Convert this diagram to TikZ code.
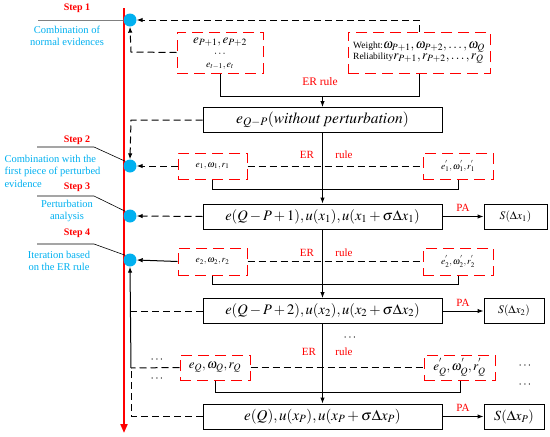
\documentclass[tikz,border=0pt]{standalone}
\usepackage{mathptmx}
\usepackage{fontspec}
\setmainfont{Liberation Serif}
\usetikzlibrary{arrows.meta}
\definecolor{cy}{RGB}{0,176,240}
\definecolor{rd}{RGB}{255,0,0}
\tikzset{
  solidbox/.style={draw,line width=1pt,minimum width=239pt,minimum height=25pt,inner sep=0pt,font=\fontsize{14.5}{16}\selectfont},
  sbox/.style={draw,line width=1pt,minimum height=25pt,inner sep=0pt,font=\fontsize{11.5}{13}\selectfont},
  rbox/.style={draw=rd,line width=1pt,dash pattern=on 11pt off 6pt,minimum height=26pt,inner sep=0pt,font=\fontsize{9.5}{11}\selectfont},
  dl/.style={line width=1pt,dash pattern=on 7pt off 4pt},
  sl/.style={line width=1pt},
  arr/.style={-{Latex[length=6pt,width=4.5pt]}},
  dot/.style={circle,fill=cy,minimum size=13pt,inner sep=0pt},
  steplab/.style={text=rd,font=\fontsize{10}{11}\selectfont\bfseries},
  desc/.style={text=cy,font=\fontsize{10.5}{12.5}\selectfont,align=center},
  redlab/.style={text=rd,font=\fontsize{11}{12}\selectfont},
  dots3/.style={font=\fontsize{12}{12}\selectfont}
}
\begin{document}
\begin{tikzpicture}[x=1pt,y=-1pt]
\useasboundingbox (0,0) rectangle (550,437);
% red axis
\draw[rd,line width=2pt,-{Triangle[length=9pt,width=7pt]}] (124,8) -- (124,433);
% dots
\node[dot] (d1) at (130,20) {};
\node[dot] (d2) at (130,166) {};
\node[dot] (d3) at (130,216) {};
\node[dot] (d4) at (130,260) {};
% step labels
\node[steplab] (s1) at (77,8) {Step 1};
\node[desc] (t1) at (67,36) {Combination of\\normal evidences};
\coordinate (l1) at (38,20);
\draw[gray,line width=1pt] (l1) -- (d1.west);
\node[steplab] (s2) at (77,140) {Step 2};
\node[desc,align=left,anchor=west] (t2) at (1,171) {Combination with the\\first piece of perturbed\\evidence};
\coordinate (l2a) at (37,147); \coordinate (l2b) at (94,147);
\draw[line width=0.6pt] (l2a) -- (l2b) -- (d2.north west);
\node[steplab] (s3) at (77,187) {Step 3};
\node[desc] (t3) at (67,211) {Perturbation\\analysis};
\coordinate (l3a) at (37,196); \coordinate (l3b) at (94,196);
\draw[line width=0.6pt] (l3a) -- (l3b) -- (d3.north west);
\node[steplab] (s4) at (77,233) {Step 4};
\node[desc] (t4) at (59,261) {Iteration based\\on the ER rule};
\coordinate (l4a) at (37,244); \coordinate (l4b) at (94,244);
\draw[line width=0.6pt] (l4a) -- (l4b) -- (d4.north west);
% top boxes
\node[rbox,minimum width=86pt,minimum height=41pt] (A) at (220,52.5) {};
\node[font=\fontsize{13}{13}\selectfont,inner sep=1pt] (A1) at (220,42) {$e_{P+1},e_{P+2}$};
\node[font=\fontsize{11}{11}\selectfont,inner sep=0pt] (A2) at (220,54) {$\cdots$};
\node[font=\fontsize{10}{10}\selectfont,inner sep=1pt] (A3) at (220,66) {$e_{t-1},e_t$};
\node[rbox,minimum width=142pt,minimum height=41pt,align=left] (B) at (419,52.5)
  {Weight:\fontsize{13}{15}\selectfont$\omega_{P+1},\omega_{P+2},\ldots,\omega_Q$\\
   \fontsize{9.5}{15}\selectfont Reliability\fontsize{13}{15}\selectfont$r_{P+1},r_{P+2},\ldots,r_Q$};
\node[redlab,font=\fontsize{11.5}{12}\selectfont] (er0) at (320,82) {ER rule};
\node[solidbox,font=\fontsize{15.5}{17}\selectfont] (C) at (322.5,120) {$e_{Q-P}(\mathit{without\ perturbation})$};
\coordinate (j0a) at (220,96); \coordinate (j0b) at (419,96); \coordinate (j0c) at (322.5,96);
\draw[sl] (A.south) -- (j0a) -- (j0b) -- (B.south);
\draw[sl,arr] (j0c) -- (C.north);
\coordinate (c1) at (419,20);
\draw[dl,arr] (B.north) -- (c1) -- (d1.east);
\coordinate (c2) at (131,52);
\draw[dl,arr] (A.west) -- (c2) -- (d1.south);
\coordinate (c3) at (131,120);
\draw[dl,arr] (C.west) -- (c3) -- (d2.north);
% row 1
\node[rbox,minimum width=69pt] (D1) at (212.5,166) {$e_1,\omega_1,r_1$};
\node[rbox,minimum width=70pt] (D2) at (458,166) {$e_1^{'},\omega_1^{'},r_1^{'}$};
\node[redlab] (er1a) at (307,155) {ER};
\node[redlab] (er1b) at (344,155) {rule};
\draw[dl,arr] (D1.west) -- (d2.east);
\draw[dl] (D1.east) -- (D2.west);
\coordinate (j1a) at (212,189); \coordinate (j1b) at (458,189);
\draw[sl] (D1.south -| j1a) -- (j1a) -- (j1b) -- (D2.south -| j1b);
\node[solidbox] (E) at (322.5,216.5) {$e(Q-P+1),u(x_1),u(x_1+\sigma\Delta x_1)$};
\draw[sl,arr] (C.south) -- (E.north);
\draw[dl,arr] (E.west) -- (d3.east);
\node[sbox,minimum width=63pt] (S1) at (515.5,216.5) {$S(\Delta x_1)$};
\draw[sl,arr] (E.east) -- node[redlab,above=1pt] {PA} (S1.west);
% row 2
\node[rbox,minimum width=69pt,minimum height=27pt] (D3) at (212.5,261.5) {$e_2,\omega_2,r_2$};
\node[rbox,minimum width=70pt,minimum height=27pt] (D4) at (458,261.5) {$e_2^{'},\omega_2^{'},r_2^{'}$};
\node[redlab] (er2a) at (307,253) {ER};
\node[redlab] (er2b) at (344,253) {rule};
\draw[sl,arr] (D3.west) -- (d4.east);
\draw[dl] (D3.east) -- (D4.west);
\coordinate (j2a) at (212,284); \coordinate (j2b) at (458,284);
\draw[sl] (D3.south -| j2a) -- (j2a) -- (j2b) -- (D4.south -| j2b);
\node[solidbox] (F) at (322.5,311) {$e(Q-P+2),u(x_2),u(x_2+\sigma\Delta x_2)$};
\draw[sl,arr] (E.south) -- (F.north);
\node[sbox,minimum width=60pt] (S2) at (514,311) {$S(\Delta x_2)$};
\draw[sl,arr] (F.east) -- node[redlab,above=1pt] {PA} (S2.west);
\coordinate (c5) at (131,311);
\draw[dl] (F.west) -- (c5);
% row 3
\node[dots3] (m1) at (350,338) {$\cdots$};
\node[redlab] (er3a) at (309,352) {ER};
\node[redlab] (er3b) at (344,352) {rule};
\node[rbox,minimum width=70pt,minimum height=25pt,font=\fontsize{13}{15}\selectfont] (D5) at (215,367.5) {$e_Q,\omega_Q,r_Q$};
\node[rbox,minimum width=71pt,minimum height=25pt,font=\fontsize{13}{15}\selectfont] (D6) at (459.5,367.5) {$e_Q^{'},\omega_Q^{'},r_Q^{'}$};
\node[dots3] (m2) at (157,360) {$\cdots$};
\node[dots3] (m3) at (157,379) {$\cdots$};
\node[dots3] (m4) at (525,366) {$\cdots$};
\node[dots3] (m5) at (525,385) {$\cdots$};
\coordinate (c6) at (131,368);
\coordinate (c7) at (131,416.5);
\draw[sl,arr] (c6) -- (d4.south);
\draw[dl] (D5.west) -- (c6);
\draw[dl] (D5.east) -- (D6.west);
\coordinate (j3a) at (215,392); \coordinate (j3b) at (460,392);
\draw[sl] (D5.south -| j3a) -- (j3a) -- (j3b) -- (D6.south -| j3b);
\node[solidbox,font=\fontsize{15}{17}\selectfont] (G) at (322.5,416.5) {$e(Q),u(x_P),u(x_P+\sigma\Delta x_P)$};
\draw[sl,arr] (F.south) -- (G.north);
\draw[dl] (G.west) -- (c7) -- (c6);
\node[sbox,minimum width=60pt,font=\fontsize{14}{15}\selectfont] (S3) at (514,416.5) {$S(\Delta x_P)$};
\draw[sl,arr] (G.east) -- node[redlab,above=1pt] {PA} (S3.west);
\end{tikzpicture}
\end{document}
